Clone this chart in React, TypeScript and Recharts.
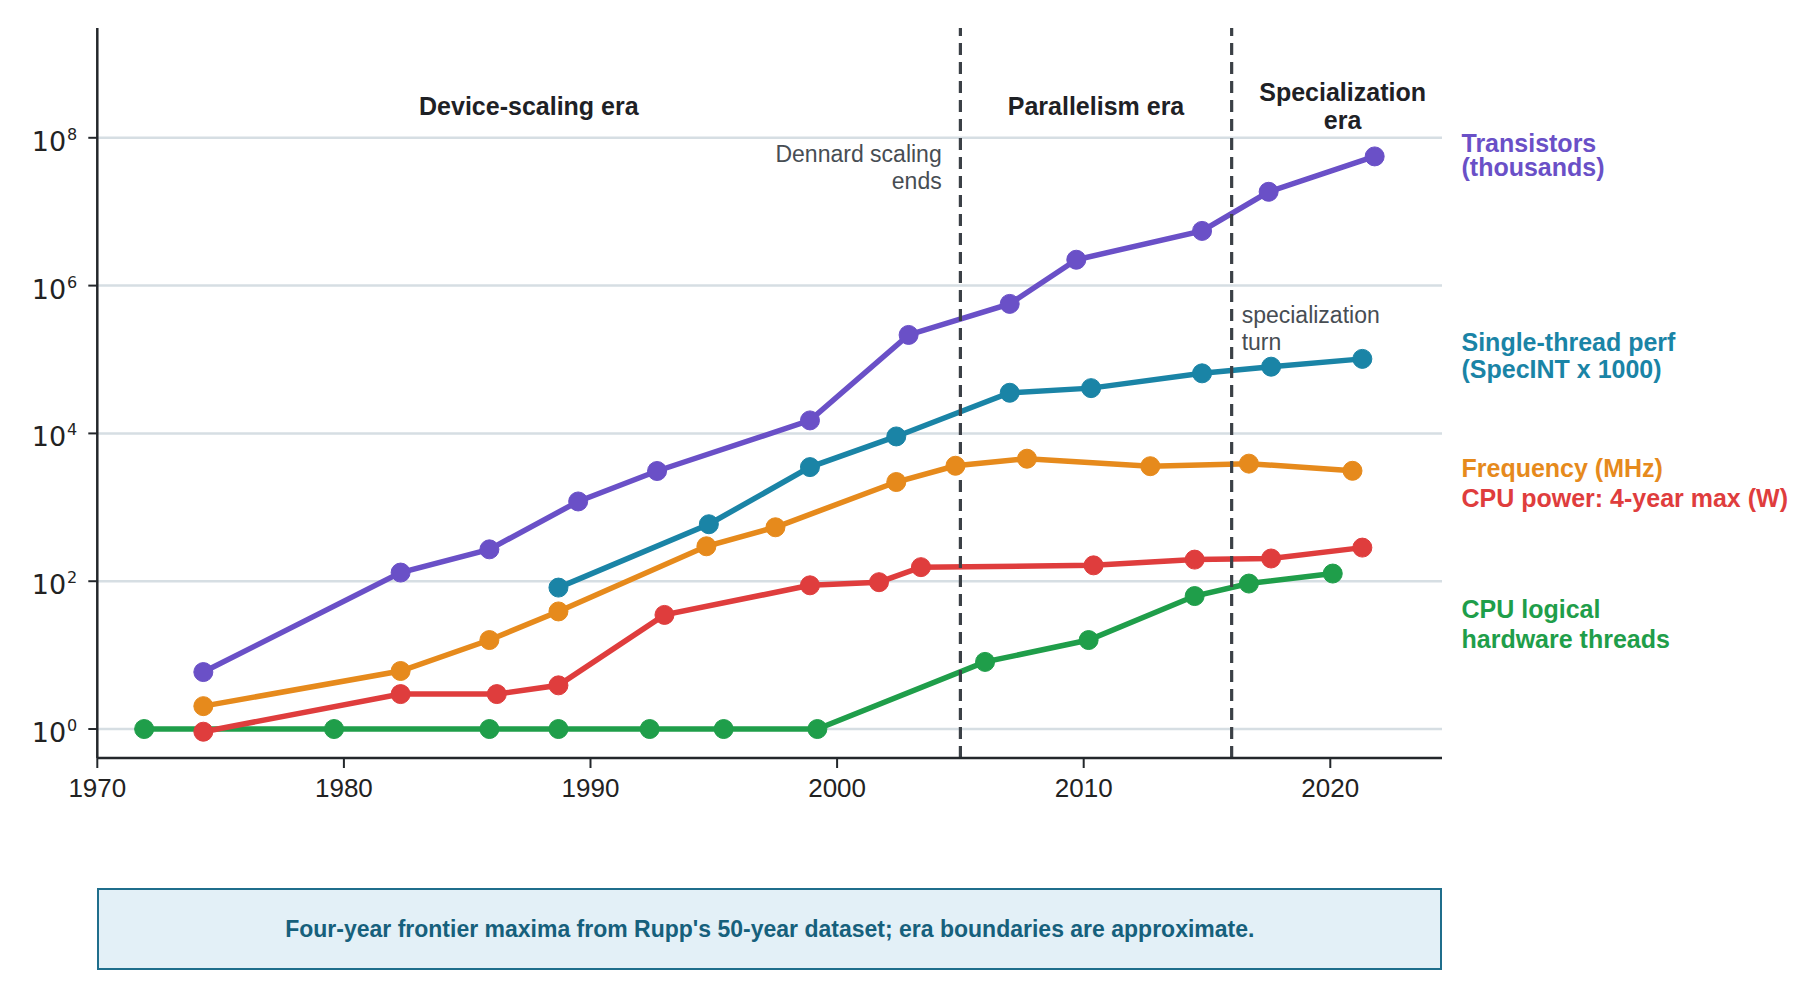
import React from "react";
import {
  CartesianGrid,
  Line,
  LineChart,
  ReferenceArea,
  ReferenceLine,
  XAxis,
  YAxis,
} from "recharts";

// four-year frontier maxima
const transistorYears = [1974.3, 1982.3, 1985.9, 1989.5, 1992.7, 1998.9, 2002.9, 2007.0, 2009.7, 2014.8, 2017.5, 2021.8];
const transistorValues = [5.9, 131, 270, 1200, 3100, 15000, 215000, 566000, 2240000, 5500000, 18600000, 56000000];

const singleThreadYears = [1988.7, 1994.8, 1998.9, 2002.4, 2007.0, 2010.3, 2014.8, 2017.6, 2021.3];
const singleThreadValues = [82, 590, 3500, 9100, 35500, 41000, 65000, 80000, 102000];

const frequencyYears = [1974.3, 1982.3, 1985.9, 1988.7, 1994.7, 1997.5, 2002.4, 2004.8, 2007.7, 2012.7, 2016.7, 2020.9];
const frequencyValues = [2.04, 6.1, 16, 39, 297, 537, 2200, 3650, 4550, 3600, 3900, 3120];

const powerYears = [1974.3, 1982.3, 1986.2, 1988.7, 1993.0, 1998.9, 2001.7, 2003.4, 2010.4, 2014.5, 2017.6, 2021.3];
const powerValues = [0.92, 2.97, 2.97, 3.9, 35, 88, 97, 155, 164, 196, 203, 285];

const threadYears = [1971.9, 1979.6, 1985.9, 1988.7, 1992.4, 1995.4, 1999.2, 2006.0, 2010.2, 2014.5, 2016.7, 2020.1];
const threadValues = [1, 1, 1, 1, 1, 1, 1, 8.1, 16, 63, 93, 127];

const xTicks = [1970, 1980, 1990, 2000, 2010, 2020];
const yTicks = [1, 1e2, 1e4, 1e6, 1e8];

const eraBounds = [1970, 2005, 2016, 2025];
const eraNames = [["Device-scaling era"], ["Parallelism era"], ["Specialization", "era"]];

const PURPLE = "#6a50c7";
const TEAL = "#1a84a6";
const ORANGE = "#e68a1c";
const RED = "#df3d3d";
const GREEN = "#1f9e4a";
const AXIS = "#23272b";
const FONT = "'Liberation Sans', Arial, sans-serif";

const toPoints = (years: number[], values: number[]) =>
  years.map((year, i) => ({ year, value: values[i] }));

// green first so the red 1974 dot sits on top of it
const series = [
  { name: "threads", color: GREEN, data: toPoints(threadYears, threadValues) },
  { name: "power", color: RED, data: toPoints(powerYears, powerValues) },
  { name: "frequency", color: ORANGE, data: toPoints(frequencyYears, frequencyValues) },
  { name: "single", color: TEAL, data: toPoints(singleThreadYears, singleThreadValues) },
  { name: "transistors", color: PURPLE, data: toPoints(transistorYears, transistorValues) },
];

const sideLabels = [
  { lines: ["Transistors", "(thousands)"], color: PURPLE, y: [144, 168] },
  { lines: ["Single-thread perf", "(SpecINT x 1000)"], color: TEAL, y: [343, 370] },
  { lines: ["Frequency (MHz)"], color: ORANGE, y: [469] },
  { lines: ["CPU power: 4-year max (W)"], color: RED, y: [499] },
  { lines: ["CPU logical", "hardware threads"], color: GREEN, y: [610, 640] },
];

const XTick = (props: any) => (
  <text
    x={props.x}
    y={props.y + 29}
    textAnchor="middle"
    fill="#222"
    fontSize={26}
    fontFamily={FONT}
  >
    {props.payload.value}
  </text>
);

const YTick = (props: any) => {
  const exp = Math.round(Math.log10(props.payload.value));
  return (
    <text
      x={props.x - 11}
      y={props.y + 13}
      textAnchor="end"
      fill="#222"
      fontSize={27}
      fontFamily="'DejaVu Sans', sans-serif"
    >
      <tspan>10</tspan>
      <tspan fontSize={16} dx={1} dy={-11}>
        {exp}
      </tspan>
    </text>
  );
};

const EraLabel = ({ viewBox, lines }: any) => {
  if (!viewBox) return null;
  const cx = viewBox.x + viewBox.width / 2;
  const first = lines.length > 1 ? 73 : 87;
  return (
    <text textAnchor="middle" fill="#1e2125" fontSize={25} fontWeight="bold" fontFamily={FONT}>
      {lines.map((l: string, i: number) => (
        <tspan key={l} x={cx} y={viewBox.y + first + i * 28}>
          {l}
        </tspan>
      ))}
    </text>
  );
};

const NoteLabel = ({ viewBox, lines, dx, anchor, top }: any) => {
  if (!viewBox) return null;
  return (
    <text textAnchor={anchor} fill="#474d53" fontSize={23} fontFamily={FONT}>
      {lines.map((l: string, i: number) => (
        <tspan key={l} x={viewBox.x + dx} y={viewBox.y + top + i * 27}>
          {l}
        </tspan>
      ))}
    </text>
  );
};

export default function App() {
  return (
    <div style={{ position: "relative", width: 1800, height: 985, fontFamily: FONT }}>
      <LineChart
        width={1800}
        height={985}
        margin={{ top: 20, right: 366, bottom: 195, left: 9.3 }}
      >
        {/* grid only at the labelled decades, no border lines */}
        <CartesianGrid vertical={false} stroke="#d6dee3" strokeWidth={2.5} syncWithTicks />
        <XAxis
          dataKey="year"
          type="number"
          domain={[1970, 2024.53]}
          allowDataOverflow
          ticks={xTicks}
          tick={XTick}
          tickSize={10}
          tickMargin={0}
          tickLine={{ stroke: AXIS, strokeWidth: 2 }}
          axisLine={{ stroke: AXIS, strokeWidth: 2.5 }}
          height={40}
        />
        <YAxis
          type="number"
          scale="log"
          domain={[0.4055, 3.06e9]}
          allowDataOverflow
          ticks={yTicks}
          tick={YTick}
          tickSize={9}
          tickMargin={0}
          tickLine={{ stroke: AXIS, strokeWidth: 2 }}
          axisLine={{ stroke: AXIS, strokeWidth: 2.5 }}
          width={80}
        />
        {eraNames.map((lines, i) => (
          <ReferenceArea
            key={lines[0]}
            x1={eraBounds[i]}
            x2={eraBounds[i + 1]}
            fill="none"
            stroke="none"
            ifOverflow="visible"
            label={(p: any) => <EraLabel viewBox={p.viewBox} lines={lines} />}
          />
        ))}
        {series.map((s) => (
          <Line
            key={s.name}
            data={s.data}
            dataKey="value"
            stroke={s.color}
            strokeWidth={5.5}
            dot={{ r: 9.5, fill: s.color, stroke: s.color, strokeWidth: 1 }}
            activeDot={false}
            isAnimationActive={false}
          />
        ))}
        <ReferenceLine
          x={eraBounds[1]}
          stroke="#3b4046"
          strokeWidth={3.2}
          strokeDasharray="12 7"
          label={(p: any) => (
            <NoteLabel viewBox={p.viewBox} lines={["Dennard scaling", "ends"]} dx={-18.7} anchor="end" top={133.7} />
          )}
        />
        <ReferenceLine
          x={eraBounds[2]}
          stroke="#3b4046"
          strokeWidth={3.2}
          strokeDasharray="12 7"
          label={(p: any) => (
            <NoteLabel viewBox={p.viewBox} lines={["specialization", "turn"]} dx={10} anchor="start" top={295.3} />
          )}
        />
      </LineChart>

      <svg
        width={1800}
        height={985}
        style={{ position: "absolute", left: 0, top: 0, pointerEvents: "none" }}
      >
        {sideLabels.map((lab) => (
          <text key={lab.lines[0]} fill={lab.color} fontSize={25} fontWeight="bold" fontFamily={FONT}>
            {lab.lines.map((l, i) => (
              <tspan key={l} x={1453.5} y={lab.y[i]}>
                {l}
              </tspan>
            ))}
          </text>
        ))}
      </svg>

      <div
        style={{
          position: "absolute",
          left: 89.3,
          top: 880,
          width: 1345,
          height: 82,
          boxSizing: "border-box",
          background: "#e3f0f7",
          border: "2.5px solid #1f6e8c",
          display: "flex",
          alignItems: "center",
          justifyContent: "center",
          color: "#16607c",
          fontWeight: "bold",
          fontSize: 23,
        }}
      >
        Four-year frontier maxima from Rupp's 50-year dataset; era boundaries are approximate.
      </div>
    </div>
  );
}
